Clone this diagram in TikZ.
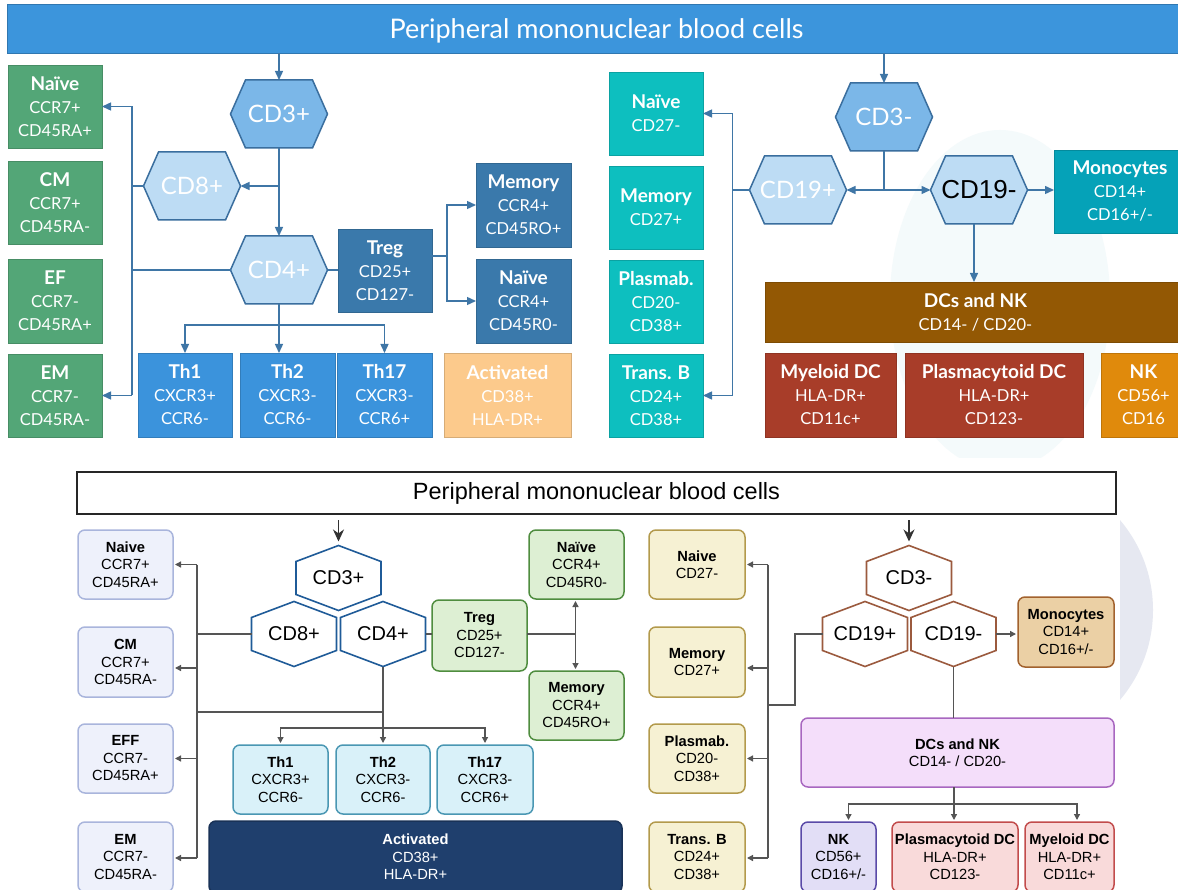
\documentclass[tikz,border=0pt]{standalone}
\usepackage{fontspec}
\setmainfont{Lato}
\newfontfamily\arialf{Liberation Sans}
\usetikzlibrary{arrows.meta,calc}
\definecolor{titleblue}{HTML}{3C95DC}
\definecolor{tgreen}{HTML}{53A677}
\definecolor{tdark}{HTML}{3A79AB}
\definecolor{tth}{HTML}{3B93DC}
\definecolor{tact}{HTML}{FCCA8C}
\definecolor{tteal}{HTML}{0DBFBF}
\definecolor{tmono}{HTML}{05A2B8}
\definecolor{tdcs}{HTML}{935804}
\definecolor{tred}{HTML}{A83D29}
\definecolor{tnk}{HTML}{E08A0C}
\definecolor{hexdark}{HTML}{7BB7E8}
\definecolor{hexlight}{HTML}{BDDCF4}
\definecolor{hexedge}{HTML}{3A6E9E}
\definecolor{tline}{HTML}{3F76A6}
\definecolor{blav}{HTML}{EEF1FB}\definecolor{blavd}{HTML}{A9B5DC}
\definecolor{bhex}{HTML}{1F5B98}
\definecolor{bth}{HTML}{D9F1F9}\definecolor{bthd}{HTML}{4A97B3}
\definecolor{bnavy}{HTML}{1F3F6D}
\definecolor{bgreen}{HTML}{DDEFD3}\definecolor{bgreend}{HTML}{4F8D3F}
\definecolor{byel}{HTML}{F6F1D3}\definecolor{byeld}{HTML}{B39A4C}
\definecolor{bhexb}{HTML}{9B5A3E}
\definecolor{bmono}{HTML}{EBD0A5}\definecolor{bmonod}{HTML}{A2622E}
\definecolor{bdcs}{HTML}{F4DEFA}\definecolor{bdcsd}{HTML}{A867C0}
\definecolor{bnk}{HTML}{E2DEF6}\definecolor{bnkd}{HTML}{5A4AA8}
\definecolor{bred}{HTML}{F9DADA}\definecolor{bredd}{HTML}{C24C4C}
\definecolor{bline}{HTML}{555555}
\definecolor{wmlav}{HTML}{E6E8F1}
\definecolor{wmteal}{HTML}{F4FAFB}

% box by corners: name, x1, y1, x2, y2, style, text
\newcommand\bx[7]{\node[#6, minimum width={(#4)-(#2)}, minimum height={(#5)-(#3)}] (#1) at ({((#2)+(#4))/2},{((#3)+(#5))/2}) {#7};}
% top hexagon (points left/right): name, cx, cy, fill, text
\newcommand\hexT[5]{%
  \filldraw[fill=#4, draw=hexedge, line width=1.5pt, line join=miter]
    ({#2-48.5},#3) -- ({#2-33.5},{#3-34}) -- ({#2+33.5},{#3-34}) -- ({#2+48.5},#3)
    -- ({#2+33.5},{#3+34}) -- ({#2-33.5},{#3+34}) -- cycle;
  \node[inner sep=0pt, outer sep=0pt, minimum width=97, minimum height=68] (#1) at (#2,#3) {#5};}
% bottom hexagon (points up/down): name, cx, cy, colour, text
\newcommand\hexB[5]{%
  \filldraw[fill=white, draw=#4, line width=1.6pt, line join=miter]
    (#2,{#3-32.5}) -- ({#2+42.5},{#3-16.5}) -- ({#2+42.5},{#3+16.5}) -- (#2,{#3+32.5})
    -- ({#2-42.5},{#3+16.5}) -- ({#2-42.5},{#3-16.5}) -- cycle;
  \node[inner sep=0pt, outer sep=0pt, minimum width=85, minimum height=65,
        font=\arialf\fontsize{20}{23}\selectfont] (#1) at (#2,#3) {#5};}
\newcommand\tb[1]{{\fontsize{19}{23}\selectfont\bfseries #1}}

\begin{document}
\begin{tikzpicture}[x=1pt,y=-1pt,
  tbox/.style={inner sep=0pt, outer sep=0pt, align=center, text=white,
     fill=#1, draw=#1!85!black, line width=0.7pt,
     font=\fontsize{16.5}{23}\selectfont},
  bb/.style 2 args={inner sep=0pt, outer sep=0pt, align=center, text=black,
     fill=#1, draw=#2, line width=1.5pt, rounded corners=7pt,
     font=\arialf\fontsize{14.7}{17.5}\selectfont},
  tconn/.style={draw=tline, line width=1.4pt},
  tarr/.style={tconn, -{Triangle[length=9pt,width=8pt]}},
  bconn/.style={draw=bline, line width=1.3pt},
  barr/.style={bconn, -{Triangle[length=6pt,width=6pt]}, shorten >=2pt},
  barrbig/.style={draw=black!80, line width=1.6pt, -{Stealth[length=12pt,width=11pt]}},
]
\useasboundingbox (0,0) rectangle (1178,890);
\fill[white] (0,0) rectangle (1178,890);

% faint background watermark
\fill[wmteal] (1000,300) ellipse [x radius=110, y radius=170];
\fill[wmlav] (1014,610) circle [radius=139];
\fill[white] (60,458) rectangle (1120,890);

%================ TOP PANEL ================
\node[fill=titleblue, draw=titleblue!80!black, line width=0.6pt, inner sep=0pt, outer sep=0pt,
  minimum width=1178, minimum height=49] (title1) at (596.5,28.5) {};
\node[text=white, inner sep=0pt, font=\fontsize{27}{30}\selectfont] (title1t)
  at ($(title1.center)+(0,2.5)$) {Peripheral mononuclear blood cells};

% green T-cell subsets
\bx{gnai}{8}{65}{102}{148}{tbox=tgreen}{\tb{Naïve}\\CCR7+\\CD45RA+}
\bx{gcm}{8}{161}{102}{244}{tbox=tgreen}{\tb{CM}\\CCR7+\\CD45RA-}
\bx{gef}{8}{259}{102}{343}{tbox=tgreen}{\tb{EF}\\CCR7-\\CD45RA+}
\bx{gem}{8}{354}{102}{437}{tbox=tgreen}{\tb{EM}\\CCR7-\\CD45RA-}
% Treg and its subsets
\bx{treg}{338}{229}{432}{312}{tbox=tdark}{\tb{Treg}\\CD25+\\CD127-}
\bx{tmem}{476}{163}{571}{247}{tbox=tdark}{\tb{Memory}\\CCR4+\\CD45RO+}
\bx{tnai}{476}{259}{571}{343}{tbox=tdark}{\tb{Naïve}\\CCR4+\\CD45R0-}
% Th
\bx{th1}{138}{353}{232}{437}{tbox=tth}{\tb{Th1}\\CXCR3+\\CCR6-}
\bx{th2}{240}{353}{335}{437}{tbox=tth}{\tb{Th2}\\CXCR3-\\CCR6-}
\bx{th17}{337}{353}{432}{437}{tbox=tth}{\tb{Th17}\\CXCR3-\\CCR6+}
\bx{tact}{444}{353}{571}{437}{tbox=tact}{\tb{Activated}\\CD38+\\HLA-DR+}
% B cells
\bx{bnai}{609}{72}{703}{155}{tbox=tteal}{\tb{Naïve}\\CD27-}
\bx{bmem}{609}{166}{703}{249}{tbox=tteal}{\tb{Memory}\\CD27+}
\bx{bpla}{609}{260}{703}{343}{tbox=tteal}{\tb{Plasmab.}\\CD20-\\CD38+}
\bx{btrans}{609}{354}{703}{437}{tbox=tteal}{\tb{Trans. B}\\CD24+\\CD38+}
% monocytes, DCs, NK
\bx{mono}{1054}{150}{1186}{233}{tbox=tmono}{\tb{Monocytes}\\CD14+\\CD16+/-}
\bx{dcs}{765}{282}{1186}{342}{tbox=tdcs}{\tb{DCs and NK}\\CD14- / CD20-}
\bx{mdc}{765}{353}{896}{437}{tbox=tred}{\tb{Myeloid DC}\\HLA-DR+\\CD11c+}
\bx{pdc}{905}{353}{1083}{437}{tbox=tred}{\tb{Plasmacytoid DC}\\HLA-DR+\\CD123-}
\bx{tnk}{1101}{353}{1186}{437}{tbox=tnk}{\tb{NK}\\CD56+\\CD16}

% hexagons
\hexT{cd3p}{279}{114}{hexdark}{\color{white}\fontsize{24}{28}\selectfont CD3+}
\hexT{cd8p}{192}{186}{hexlight}{\color{white}\fontsize{24}{28}\selectfont CD8+}
\hexT{cd4p}{279}{270}{hexlight}{\color{white}\fontsize{24}{28}\selectfont CD4+}
\hexT{cd3m}{884}{117}{hexdark}{\color{white}\fontsize{24}{28}\selectfont CD3-}
\hexT{cd19p}{798}{190}{hexlight}{\color{white}\fontsize{24}{28}\selectfont CD19+}
\hexT{cd19m}{979}{190}{hexlight}{\color{black}\arialf\fontsize{26}{30}\selectfont CD19-}

% top connectors, T side
\draw[tarr] (cd3p.north |- title1.south) -- (cd3p.north);
\draw[tarr] (cd3p.south) -- (cd4p.north);
\draw[tarr] (cd3p.south |- cd8p.east) -- (cd8p.east);
\coordinate (tbus) at (132,186);
\draw[tconn] (cd8p.west) -- (tbus);
\draw[tconn] (cd4p.west) -- (cd4p.west -| tbus);
\draw[tconn] (tbus |- gnai.east) -- (tbus |- gem.east);
\draw[tarr] (tbus |- gnai.east) -- (gnai.east);
\draw[tarr] (tbus |- gem.east) -- (gem.east);
\draw[tconn] (cd4p.east) -- (cd4p.east -| treg.west);
\coordinate (tregbus) at (447,256);
\draw[tconn] (tregbus -| treg.east) -- (tregbus);
\draw[tarr] (tregbus) |- (tmem.west);
\draw[tarr] (tregbus) |- (tnai.west);
\draw[tarr] (cd4p.south) -- (cd4p.south |- th2.north);
\coordinate (thbus) at (279,325);
\draw[tarr] (thbus) -| (th1.north);
\draw[tarr] (thbus) -| (th17.north);
% top connectors, non-T side
\draw[tarr] (cd3m.north |- title1.south) -- (cd3m.north);
\draw[tconn] (cd3m.south) -- (cd3m.south |- cd19p.east);
\draw[tarr] (cd3m.south |- cd19p.east) -- (cd19p.east);
\draw[tarr] (cd3m.south |- cd19p.east) -- (cd19m.west);
\coordinate (bbus) at (732.5,190);
\draw[tconn] (cd19p.west) -- (bbus);
\draw[tconn] (bbus |- bnai.east) -- (bbus |- btrans.east);
\draw[tarr] (bbus |- bnai.east) -- (bnai.east);
\draw[tarr] (bbus |- btrans.east) -- (btrans.east);
\draw[tarr] (cd19m.east) -- (cd19m.east -| mono.west);
\draw[tarr] ($(cd19m.south)+(-5,0)$) -- ($(cd19m.south |- dcs.north)+(-5,0)$);

%================ BOTTOM PANEL ================
\node[draw=black!85, line width=2pt, fill=white, inner sep=0pt, outer sep=0pt,
  minimum width=1039, minimum height=42,
  font=\arialf\fontsize{23.5}{26}\selectfont] (title2) at (596.5,493) {Peripheral mononuclear blood cells};

% left memory subsets
\bx{lnai}{78}{530}{173}{599}{bb={blav}{blavd}}{\textbf{Naive}\\CCR7+\\CD45RA+}
\bx{lcm}{78}{627}{173}{697}{bb={blav}{blavd}}{\textbf{CM}\\CCR7+\\CD45RA-}
\bx{leff}{78}{724}{173}{793}{bb={blav}{blavd}}{\textbf{EFF}\\CCR7-\\CD45RA+}
\bx{lem}{78}{822}{173}{892}{bb={blav}{blavd}}{\textbf{EM}\\CCR7-\\CD45RA-}
% Th, activated
\bx{bth1}{233}{745}{328}{814}{bb={bth}{bthd}}{\textbf{Th1}\\CXCR3+\\CCR6-}
\bx{bth2}{336}{745}{430}{814}{bb={bth}{bthd}}{\textbf{Th2}\\CXCR3-\\CCR6-}
\bx{bth17}{437}{745}{533}{814}{bb={bth}{bthd}}{\textbf{Th17}\\CXCR3-\\CCR6+}
\bx{bact}{209}{821}{622}{893}{bb={bnavy}{bnavy!80!black}, text=white}{\textbf{Activated}\\CD38+\\HLA-DR+}
% Treg
\bx{btreg}{432}{600}{527}{671}{bb={bgreen}{bgreend}}{\textbf{Treg}\\CD25+\\CD127-}
\bx{bgnai}{529}{530}{624}{599}{bb={bgreen}{bgreend}}{\textbf{Naïve}\\CCR4+\\CD45R0-}
\bx{bgmem}{529}{671}{624}{740}{bb={bgreen}{bgreend}}{\textbf{Memory}\\CCR4+\\CD45RO+}
% B cells
\bx{ynai}{649}{530}{745}{599}{bb={byel}{byeld}}{\textbf{Naive}\\CD27-}
\bx{ymem}{649}{627}{745}{697}{bb={byel}{byeld}}{\textbf{Memory}\\CD27+}
\bx{ypla}{649}{724}{745}{793}{bb={byel}{byeld}}{\textbf{Plasmab.}\\CD20-\\CD38+}
\bx{ytrans}{649}{822}{745}{892}{bb={byel}{byeld}}{\textbf{Trans. B}\\CD24+\\CD38+}
% monocytes, DCs, NK
\bx{bmono}{1018}{597}{1114}{667}{bb={bmono}{bmonod}}{\textbf{Monocytes}\\CD14+\\CD16+/-}
\bx{bdcs}{801}{718}{1114}{787}{bb={bdcs}{bdcsd}}{\textbf{DCs and NK}\\CD14- / CD20-}
\bx{bnk}{801}{822}{876}{892}{bb={bnk}{bnkd}}{\textbf{NK}\\CD56+\\CD16+/-}
\bx{bpdc}{892}{822}{1018}{892}{bb={bred}{bredd}}{\textbf{Plasmacytoid DC}\\HLA-DR+\\CD123-}
\bx{bmdc}{1025}{822}{1114}{892}{bb={bred}{bredd}}{\textbf{Myeloid DC}\\HLA-DR+\\CD11c+}

% hexagons
\hexB{b3p}{338.5}{578}{bhex}{CD3+}
\hexB{b8p}{294}{634}{bhex}{CD8+}
\hexB{b4p}{383}{634}{bhex}{CD4+}
\hexB{b3m}{909}{578}{bhexb}{CD3-}
\hexB{b19p}{865}{634}{bhexb}{CD19+}
\hexB{b19m}{953.5}{634}{bhexb}{CD19-}

% bottom connectors, T side
\draw[barrbig] ($(b3p.north |- title2.south)+(0,6)$) -- ($(b3p.north)+(0,-4)$);
\coordinate (lbus) at (197,634);
\draw[bconn] (b8p.west) -- (lbus);
\draw[bconn] (lbus |- lnai.east) -- ($(lbus |- lem.east)+(0,1)$);
\draw[barr] (lbus |- lnai.east) -- (lnai.east);
\draw[barr] ($(lbus |- lcm.east)+(0,6)$) -- ($(lcm.east)+(0,6)$);
\draw[barr] (lbus |- leff.east) -- (leff.east);
\draw[barr] ($(lbus |- lem.east)+(0,1)$) -- ($(lem.east)+(0,1)$);
\coordinate (lj) at (383,712);
\draw[bconn] (lbus |- lj) -- (lj);
\draw[barr] (b4p.south) -- (b4p.south |- bth2.north);
\coordinate (bthbus) at (383,728);
\draw[barr] (bthbus) -| (bth1.north);
\draw[barr] (bthbus) -| (bth17.north);
\draw[bconn] (b4p.east) -- (b4p.east -| btreg.west);
\coordinate (gbus) at (575.5,634);
\draw[bconn] (gbus -| btreg.east) -- (gbus);
\draw[barr] (gbus) -- (gbus |- bgnai.south);
\draw[barr] (gbus) -- (gbus |- bgmem.north);
% bottom connectors, non-T side
\draw[barrbig] ($(b3m.north |- title2.south)+(0,6)$) -- ($(b3m.north)+(0,-4)$);
\coordinate (rk) at (795,705);
\coordinate (rbus) at (768,705);
\draw[bconn] (b19p.west) -| (rk) -- (rbus);
\draw[bconn] (rbus |- ynai.east) -- ($(rbus |- ytrans.east)+(0,1)$);
\draw[barr] (rbus |- ynai.east) -- (ynai.east);
\draw[barr] ($(rbus |- ymem.east)+(0,6)$) -- ($(ymem.east)+(0,6)$);
\draw[barr] (rbus |- ypla.east) -- (ypla.east);
\draw[barr] ($(rbus |- ytrans.east)+(0,1)$) -- ($(ytrans.east)+(0,1)$);
\draw[barr] (b19m.east) -- (b19m.east -| bmono.west);
\draw[bconn] (b19m.south) -- (b19m.south |- bdcs.north);
\coordinate (dbus) at (954,804);
\draw[bconn] (dbus |- bdcs.south) -- (dbus);
\draw[barr] (dbus) -- (dbus |- bpdc.north);
\draw[barr] (dbus) -| ($(bnk.north)+(10,0)$);
\draw[barr] (dbus) -| ($(bmdc.north)+(7.5,0)$);
\end{tikzpicture}
\end{document}
